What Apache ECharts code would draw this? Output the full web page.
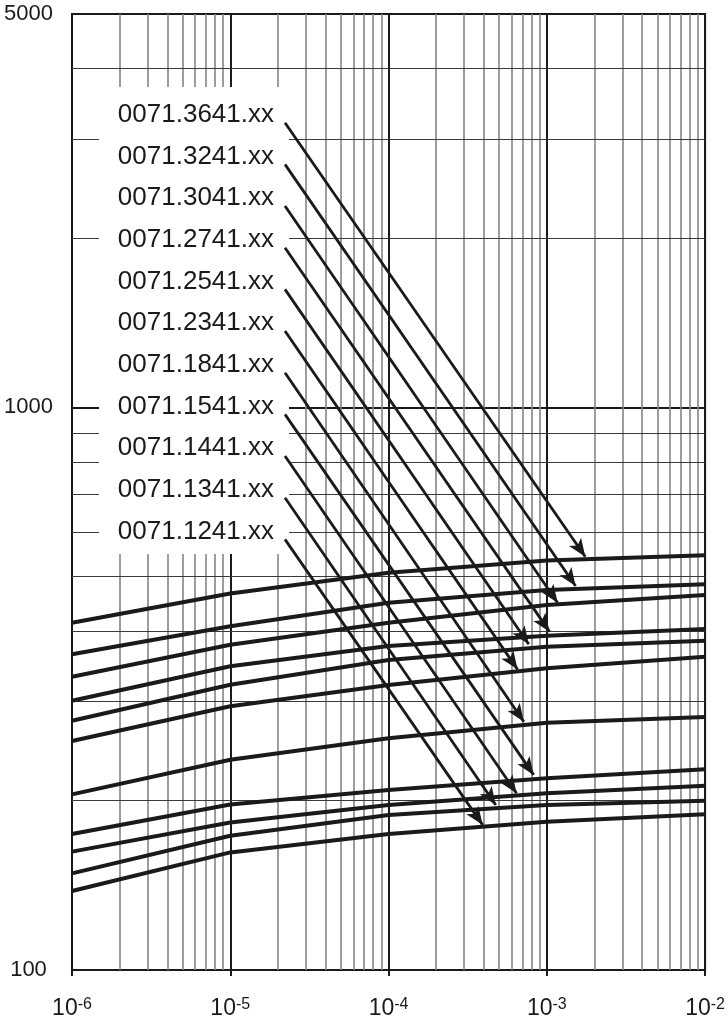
<!DOCTYPE html>
<html>
<head>
<meta charset="utf-8">
<script src="https://cdn.jsdelivr.net/npm/echarts@6.0.0/dist/echarts.min.js"></script>
<style>
html,body{margin:0;padding:0;background:#ffffff;}
#chart{width:728px;height:1022px;}
</style>
</head>
<body>
<div id="chart"></div>
<script>
// ---------------- data ----------------
const xPoints = [1e-6, 1e-5, 1e-4, 1e-3, 1e-2];
const seriesNames = ['0071.3641.xx','0071.3241.xx','0071.3041.xx','0071.2741.xx','0071.2541.xx','0071.2341.xx','0071.1841.xx','0071.1541.xx','0071.1441.xx','0071.1341.xx','0071.1241.xx'];
const s3641 = [414.2, 466.9, 508.3, 534.0, 546.0];
const s3241 = [363.9, 408.1, 449.4, 473.5, 484.9];
const s3041 = [332.0, 378.5, 414.2, 445.3, 463.9];
const s2741 = [301.0, 346.5, 376.5, 392.8, 403.6];
const s2541 = [277.3, 321.4, 355.6, 375.4, 384.8];
const s2341 = [255.3, 294.3, 321.0, 343.7, 360.3];
const s1841 = [205.2, 236.4, 258.1, 275.1, 281.6];
const s1541 = [174.4, 196.8, 208.9, 219.1, 227.5];
const s1441 = [162.3, 182.9, 196.5, 206.1, 212.5];
const s1341 = [148.5, 173.2, 188.6, 196.5, 199.9];
const s1241 = [138.2, 161.8, 174.4, 183.4, 189.2];
const seriesValues = [s3641, s3241, s3041, s2741, s2541, s2341, s1841, s1541, s1441, s1341, s1241];
// arrow tips (data space)
const arrowTipX = [1.75e-3, 1.52e-3, 1.17e-3, 1.04e-3, 7.69e-4, 6.53e-4, 7.16e-4, 8.26e-4, 6.44e-4, 4.76e-4, 3.93e-4];
const arrowTipY = [542.6, 481.3, 449.5, 399.3, 379.3, 342.2, 276.2, 222.2, 206.1, 196.4, 181.1];
// axis ticks
const xTickExponents = [-6, -5, -4, -3, -2];
const yTickLabels = [100, 1000, 5000];
const yMinorGrid = [200, 300, 400, 500, 600, 700, 800, 900, 2000, 3000, 4000];
const xMinorMultipliers = [2, 3, 4, 5, 6, 7, 8, 9];

// ---------------- layout / style ----------------
const INK = '#1a1a1a';
const FONT = '"Liberation Sans", Arial, Helvetica, sans-serif';
const labelCol = { textRight: 274, lineStartX: 285, firstY: 114.7, step: 41.67, lineDy: 8 };
const box = { x: 99, y: 87, w: 190, h: 467 };

const xMin = Math.pow(10, xTickExponents[0]);
const xMax = Math.pow(10, xTickExponents[xTickExponents.length - 1]);
const yMin = yTickLabels[0];
const yMax = yTickLabels[yTickLabels.length - 1];

const xMinorGrid = [];
for (let e = xTickExponents[0]; e < xTickExponents[xTickExponents.length - 1]; e++) {
  xMinorMultipliers.forEach(m => xMinorGrid.push(+(m * Math.pow(10, e)).toPrecision(3)));
}

const vGridData = xMinorGrid.map(v => [{ coord: [v, yMin] }, { coord: [v, yMax] }]);
const hGridData = yMinorGrid.map(v => [{ coord: [xMin, v] }, { coord: [xMax, v] }]);

const arrowData = seriesNames.map((n, i) => [
  { x: labelCol.lineStartX, y: labelCol.firstY + i * labelCol.step + labelCol.lineDy },
  { coord: [arrowTipX[i], arrowTipY[i]] }
]);

const series = [
  {
    type: 'line', data: [], z: 1, silent: true, animation: false,
    markLine: { z: 1, silent: true, animation: false, symbol: ['none', 'none'], label: { show: false },
      lineStyle: { color: '#858585', width: 1.6, type: 'solid' }, data: vGridData }
  },
  {
    type: 'line', data: [], z: 1, silent: true, animation: false,
    markLine: { z: 1, silent: true, animation: false, symbol: ['none', 'none'], label: { show: false },
      lineStyle: { color: '#3a3a3a', width: 1, type: 'solid' }, data: hGridData }
  }
];
seriesValues.forEach((vals, i) => {
  series.push({
    name: seriesNames[i], type: 'line', z: 4, animation: false, symbol: 'none', silent: true,
    lineStyle: { color: INK, width: 4 },
    data: xPoints.map((x, j) => [x, vals[j]])
  });
});
series.push({
  type: 'line', data: [], z: 5, silent: true, animation: false,
  markLine: {
    z: 5, silent: true, animation: false, symbol: ['none', 'arrow'], symbolSize: [11, 18],
    label: { show: false },
    lineStyle: { color: INK, width: 2.8, type: 'solid' },
    itemStyle: { color: INK },
    data: arrowData
  }
});

const graphics = [
  { type: 'rect', z: 2, silent: true, shape: { x: box.x, y: box.y, width: box.w, height: box.h }, style: { fill: '#ffffff' } }
];
seriesNames.forEach((n, i) => {
  graphics.push({
    type: 'text', z: 6, silent: true, x: labelCol.textRight, y: labelCol.firstY + i * labelCol.step,
    style: { text: n, align: 'right', verticalAlign: 'middle', fill: INK, font: '26px ' + FONT }
  });
});

const chart = echarts.init(document.getElementById('chart'), null, { renderer: 'canvas' });
chart.setOption({
  backgroundColor: '#ffffff',
  animation: false,
  grid: { left: 72, right: 18, top: 14, bottom: 52, show: true, borderColor: INK, borderWidth: 2, backgroundColor: 'transparent' },
  xAxis: {
    type: 'log', logBase: 10, min: xMin, max: xMax,
    axisLine: { show: true, lineStyle: { color: INK, width: 2 } },
    axisTick: { show: true, inside: false, length: 6, lineStyle: { color: INK, width: 2 } },
    splitLine: { show: true, lineStyle: { color: INK, width: 2 } },
    axisLabel: {
      margin: 27,
      formatter: v => {
        const e = Math.round(Math.log10(v));
        return xTickExponents.indexOf(e) >= 0 ? '{b|10}{s|' + e + '}' : '';
      },
      rich: {
        b: { fontSize: 23, fontFamily: FONT, color: INK, lineHeight: 23 },
        s: { fontSize: 16, fontFamily: FONT, color: INK, lineHeight: 20, verticalAlign: 'top' }
      }
    }
  },
  yAxis: {
    type: 'log', logBase: 10, min: yMin, max: yMax,
    axisLine: { show: true, lineStyle: { color: INK, width: 2 } },
    axisTick: { show: false },
    splitLine: { show: true, lineStyle: { color: INK, width: 2 } },
    axisLabel: {
      margin: 43.5, align: 'center', fontSize: 22, fontFamily: FONT, color: INK,
      formatter: v => {
        const r = Math.round(v);
        return yTickLabels.indexOf(r) >= 0 ? String(r) : '';
      }
    }
  },
  graphic: graphics,
  series: series
});
</script>
</body>
</html>
